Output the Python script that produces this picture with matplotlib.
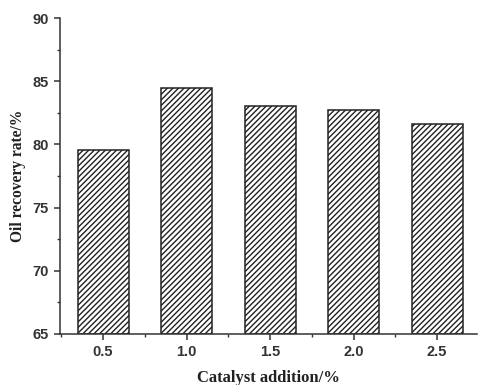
import matplotlib

matplotlib.use("Agg")
import matplotlib.pyplot as plt
from matplotlib.ticker import MultipleLocator

# catalyst dosage vs. oil recovery
catalyst = [0.5, 1.0, 1.5, 2.0, 2.5]
recovery = [79.6, 84.5, 83.05, 82.7, 81.65]
tick_labels = ["0.5", "1.0", "1.5", "2.0", "2.5"]

plt.rcParams["hatch.linewidth"] = 1.0
plt.rcParams["hatch.color"] = "#3a3a3a"

fig = plt.figure(figsize=(4.81, 3.85), dpi=100)
ax = fig.add_axes([0.125, 0.1325, 0.867, 0.8205])

ax.bar(catalyst, [r - 65 for r in recovery], bottom=65, width=0.305,
       facecolor="white", edgecolor="#222222", linewidth=1.1,
       hatch="//////", zorder=2)

ax.set_xlim(0.243, 2.74)
ax.set_ylim(65, 90)
ax.set_xticks(catalyst)
ax.set_xticklabels(tick_labels)
ax.set_yticks([65, 70, 75, 80, 85, 90])
ax.xaxis.set_minor_locator(MultipleLocator(0.5, offset=0.25))
ax.yaxis.set_minor_locator(MultipleLocator(2.5))

for side in ("top", "right"):
    ax.spines[side].set_visible(False)
for side in ("left", "bottom"):
    ax.spines[side].set_linewidth(1.1)
    ax.spines[side].set_color("#333333")

ax.tick_params(which="major", direction="out", length=4, width=1.1,
               color="#333333", labelsize=10.5, pad=4)
ax.tick_params(which="minor", direction="out", length=2.5, width=1.0,
               color="#333333")
for lab in ax.get_xticklabels() + ax.get_yticklabels():
    lab.set_fontfamily("Liberation Sans")
    lab.set_fontweight("bold")
    lab.set_color("#333333")

ax.set_xlabel("Catalyst addition/%", fontsize=12, fontweight="bold",
              family="Liberation Serif", labelpad=8, color="#222222")
ax.set_ylabel("Oil recovery rate/%", fontsize=11.2, fontweight="bold",
              family="Liberation Serif", labelpad=5, color="#222222")

fig.savefig("out.png", dpi=100)
